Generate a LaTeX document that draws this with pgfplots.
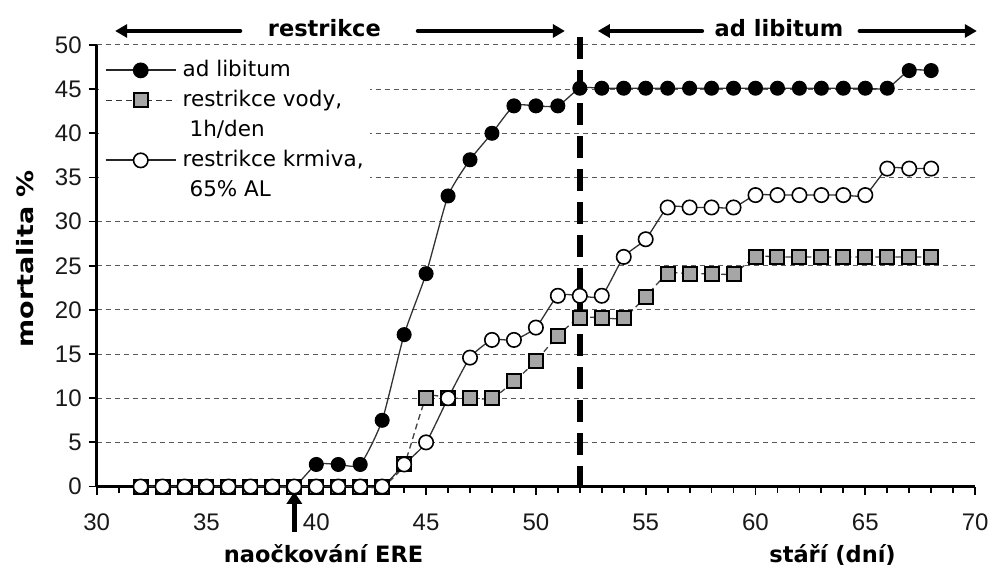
\documentclass[border=0pt]{standalone}
\usepackage{fontspec}
\setmainfont{DejaVu Sans}
\newfontfamily\arialf{Liberation Sans}
\usepackage{pgfplots}
\pgfplotsset{compat=1.18}
\usetikzlibrary{arrows.meta}

\pgfplotstableread{
x y
32 0
33 0
34 0
35 0
36 0
37 0
38 0
39 0
40 2.5
41 2.5
42 2.5
43 7.5
44 17.2
45 24.1
46 32.9
47 37.0
48 40.0
49 43.1
50 43.1
51 43.1
52 45.1
53 45.1
54 45.1
55 45.1
56 45.1
57 45.1
58 45.1
59 45.1
60 45.1
61 45.1
62 45.1
63 45.1
64 45.1
65 45.1
66 45.1
67 47.1
68 47.1
}\adlib

\pgfplotstableread{
x y
32 0
33 0
34 0
35 0
36 0
37 0
38 0
39 0
40 0
41 0
42 0
43 0
44 2.5
45 10.0
46 10.0
47 10.0
48 10.0
49 11.9
50 14.2
51 17.1
52 19.1
53 19.1
54 19.1
55 21.5
56 24.1
57 24.1
58 24.1
59 24.1
60 26.0
61 26.0
62 26.0
63 26.0
64 26.0
65 26.0
66 26.0
67 26.0
68 26.0
}\vody

\pgfplotstableread{
x y
32 0
33 0
34 0
35 0
36 0
37 0
38 0
39 0
40 0
41 0
42 0
43 0
44 2.5
45 5.0
46 10.0
47 14.6
48 16.6
49 16.6
50 18.0
51 21.6
52 21.6
53 21.6
54 26.0
55 28.0
56 31.6
57 31.6
58 31.6
59 31.6
60 33.0
61 33.0
62 33.0
63 33.0
64 33.0
65 33.0
66 36.0
67 36.0
68 36.0
}\krmiva

\newcommand{\boldlab}{\bfseries\fontsize{11.25pt}{13pt}\selectfont}

\begin{document}
\begin{tikzpicture}
\begin{axis}[
  scale only axis, width=439.2pt, height=220.8pt,
  xmin=30, xmax=70, ymin=0, ymax=50,
  axis x line*=bottom, axis y line*=left,
  axis line style={line width=1.3pt, black},
  xtick={30,35,...,70}, minor x tick num=4,
  ytick={0,5,...,50},
  tick align=outside,
  major tick length=4pt, minor tick length=3pt,
  tick style={line width=0.9pt, black},
  ymajorgrids,
  major grid style={black!65, line width=0.5pt, dash pattern=on 2.5pt off 2pt},
  /pgf/number format/assume math mode=true,
  ticklabel style={font=\arialf\fontsize{12pt}{13pt}\selectfont, text=black!90},
  xticklabel style={yshift=-6pt},
  clip=false,
  legend image code/.code={\draw[mark repeat=2,mark phase=2,#1] plot coordinates {(0pt,0pt)(17.5pt,0pt)(35pt,0pt)};},
  legend cell align=left,
  legend style={draw=none, fill=white, at={(axis cs:30.08,49.43)}, anchor=north west,
    inner xsep=3pt, inner ysep=4pt, row sep=3pt, column sep=3pt,
    font=\fontsize{10.75pt}{13pt}\selectfont,
    nodes={inner sep=0pt, text height=9pt, text depth=3pt}},
]
\addlegendimage{black!85, line width=0.9pt, mark=*, mark size=3.5pt, mark options={solid, fill=black, draw=black}}
\addlegendentry{ad libitum}
\addlegendimage{black!80, line width=0.8pt, dash pattern=on 3pt off 2pt, mark=square*, mark size=3.5pt, mark options={solid, fill=black!35, draw=black, line width=1pt}}
\addlegendentry{restrikce vody,}
\addlegendimage{empty legend}
\addlegendentry{\hspace{3.5pt}1h/den}
\addlegendimage{black!85, line width=0.9pt, mark=*, mark size=3.6pt, mark options={solid, fill=white, draw=black, line width=0.8pt}}
\addlegendentry{restrikce krmiva,\hspace{29pt}}
\addlegendimage{empty legend}
\addlegendentry{\hspace{3.5pt}65\% AL}

\addplot[forget plot, black!80, line width=0.65pt, smooth, tension=0.35, mark=*, mark size=3.5pt, mark options={solid, fill=black, draw=black, line width=0.5pt}] table {\adlib};
\addplot[forget plot, black!75, line width=0.65pt, dash pattern=on 3pt off 2pt, smooth, tension=0.35, mark=square*, mark size=3.5pt, mark options={solid, fill=black!35, draw=black, line width=1pt}] table {\vody};
\addplot[forget plot, black!80, line width=0.65pt, smooth, tension=0.35, mark=*, mark size=3.6pt, mark options={solid, fill=white, draw=black, line width=0.8pt}] table {\krmiva};

% vertical dashed separator
\draw[black, line width=2.8pt, dash pattern=on 11pt off 5.5pt] (axis cs:52,50.85) -- (axis cs:52,0);

% top arrows and labels
\draw[line width=2.2pt, line cap=round, -{Triangle[length=6pt,width=6.5pt]}] (axis cs:36.53,51.58) -- (axis cs:30.84,51.58);
\draw[line width=2.2pt, line cap=round, -{Triangle[length=6pt,width=6.5pt]}] (axis cs:44.63,51.58) -- (axis cs:51.32,51.58);
\draw[line width=2.2pt, line cap=round, -{Triangle[length=6pt,width=6.5pt]}] (axis cs:57.56,51.58) -- (axis cs:52.82,51.58);
\draw[line width=2.2pt, line cap=round, -{Triangle[length=6pt,width=6.5pt]}] (axis cs:64.75,51.58) -- (axis cs:70.08,51.58);
\node[anchor=base, inner sep=0pt, font=\boldlab] at (axis cs:40.37,50.9) {restrikce};
\node[anchor=base, inner sep=0pt, font=\boldlab] at (axis cs:61.07,50.9) {ad libitum};

% bottom arrow and labels
\draw[line width=2.2pt, -{Triangle[length=6pt,width=7.5pt]}] (axis cs:39,-5.2) -- (axis cs:39,-0.6);
\node[anchor=base, inner sep=0pt, font=\boldlab] at (axis cs:40.33,-8.64) {naočkování ERE};
\node[anchor=base, inner sep=0pt, font=\boldlab] at (axis cs:63.51,-8.64) {stáří (dní)};

% y label
\node[rotate=90, xscale=1.2, inner sep=0pt, font=\boldlab] at (axis cs:26.735,25.78) {mortalita \%};

\node[coordinate] (bbA) at (axis cs:25.597,-9.09) {};
\node[coordinate] (bbB) at (axis cs:70.815,55.09) {};
\end{axis}
\pgfresetboundingbox
\path[use as bounding box] (bbA) rectangle (bbB);
\end{tikzpicture}
\end{document}
